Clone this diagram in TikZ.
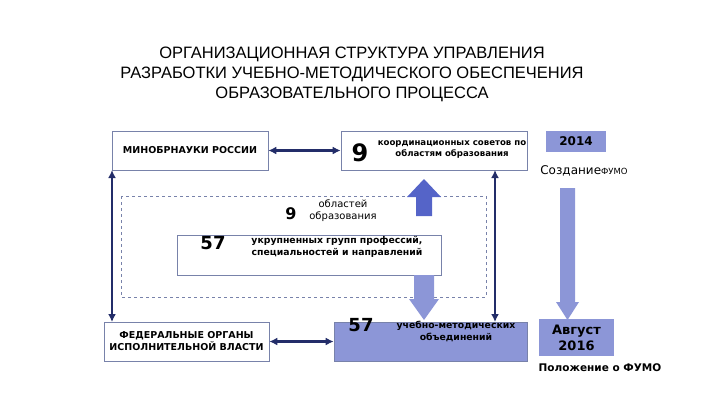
\documentclass[tikz,border=0pt]{standalone}
\usepackage{fontspec}
\setmainfont{Liberation Sans}
\newfontfamily\vfont{DejaVu Sans}
\usetikzlibrary{arrows.meta}
\definecolor{navy}{RGB}{35,45,105}
\definecolor{mid}{RGB}{140,150,215}
\definecolor{dark}{RGB}{85,100,200}
\definecolor{edge}{RGB}{120,130,170}
\tikzset{
 box/.style={draw=edge,line width=0.6pt,inner sep=2pt,align=center,font=\vfont\fontsize{9.5}{12}\selectfont\bfseries},
 txt/.style={align=center,font=\vfont\fontsize{9.3}{12}\selectfont\bfseries},
 dbl/.style={navy,line width=2.2pt,{Latex[length=8pt,width=8pt]}-{Latex[length=8pt,width=8pt]}},
 num/.style={font=\vfont\fontsize{18}{18}\selectfont\bfseries}
}
\begin{document}
\begin{tikzpicture}[x=1pt,y=-1pt]
\useasboundingbox (0,0) rectangle (720,405);
\node[align=center,font=\fontsize{16.5}{20}\selectfont] (title) at (352,74) {ОРГАНИЗАЦИОННАЯ СТРУКТУРА УПРАВЛЕНИЯ\\РАЗРАБОТКИ УЧЕБНО-МЕТОДИЧЕСКОГО ОБЕСПЕЧЕНИЯ\\ОБРАЗОВАТЕЛЬНОГО ПРОЦЕССА};
% dashed box
\draw[edge,dashed,line width=0.6pt] (121,196) rectangle (486,297);
\node[num,font=\vfont\fontsize{16}{16}\selectfont\bfseries] (n9b) at (291,214) {9};
\node[align=center,font=\vfont\fontsize{10}{12}\selectfont] (obl) at (343,211) {областей\\образования};
% boxes
\node[box,minimum width=156pt,minimum height=39pt] (min) at (190,150.5) {МИНОБРНАУКИ РОССИИ};
\node[box,minimum width=186pt,minimum height=39pt] (coord) at (434,150.5) {};
\node[num,font=\vfont\fontsize{24}{24}\selectfont\bfseries] (n9) at (360,153) {9};
\node[txt,font=\vfont\fontsize{8.6}{11}\selectfont\bfseries] (coordt) at (452,149) {координационных советов по\\областям образования};
\node[box,fill=mid,draw=none,minimum width=60pt,minimum height=21pt,font=\vfont\fontsize{12}{12}\selectfont\bfseries] (y14) at (576,141.5) {2014};
\node[font=\vfont\fontsize{12}{12}\selectfont] (sozd) at (584,171) {Создание\fontsize{8.5}{8}\selectfont ФУМО};
\node[box,minimum width=264pt,minimum height=40pt] (ugs) at (309,255) {};
\node[num] (n57a) at (213,243) {57};
\node[txt] (ugst) at (337,247) {укрупненных групп профессий,\\специальностей и направлений};
\node[box,minimum width=165pt,minimum height=39pt] (fed) at (186.5,341.5) {ФЕДЕРАЛЬНЫЕ ОРГАНЫ\\ИСПОЛНИТЕЛЬНОЙ ВЛАСТИ};
\node[box,fill=mid,minimum width=193pt,minimum height=39pt] (umo) at (430.5,341.5) {};
\node[num] (n57b) at (361,325) {57};
\node[txt] (umot) at (456,331) {учебно-методических\\объединений};
\node[box,fill=mid,draw=none,minimum width=75pt,minimum height=37pt,font=\vfont\fontsize{13}{16}\selectfont\bfseries] (avg) at (576.5,337.5) {Август\\2016};
\node[font=\vfont\fontsize{10.5}{10}\selectfont\bfseries] (pol) at (600,368) {Положение о ФУМО};
% block arrows
\fill[dark] (416,216) -- (416,197) -- (407,197) -- (424,179) -- (441,197) -- (432,197) -- (432,216) -- cycle;
\fill[mid] (414,275) -- (414,299) -- (409,299) -- (424,320) -- (439,299) -- (434,299) -- (434,275) -- cycle;
\fill[mid] (560,188) -- (560,302) -- (556,302) -- (567.5,320) -- (579,302) -- (575,302) -- (575,188) -- cycle;
% connectors
\draw[dbl] (min.east) -- (coord.west);
\draw[dbl] (fed.east) -- (umo.west);
\draw[dbl] (112,170) -- (112,322);
\draw[dbl] (495,170) -- (495,322);
\end{tikzpicture}
\end{document}
